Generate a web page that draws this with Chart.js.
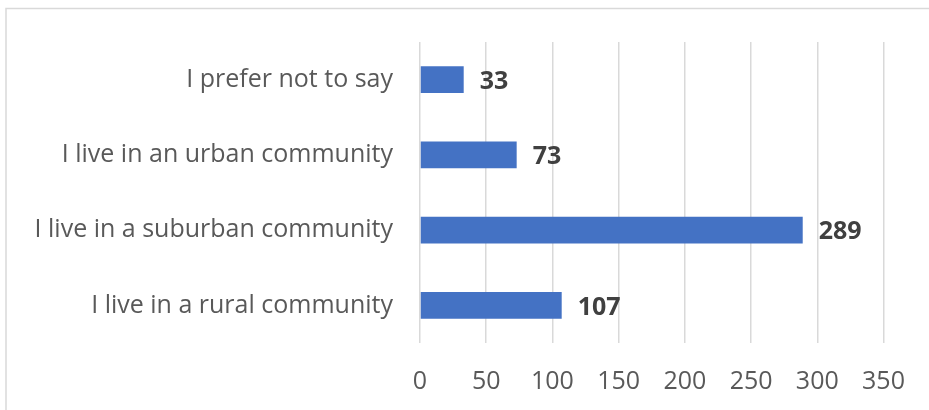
<!DOCTYPE html>
<html>
<head>
<meta charset="utf-8">
<script src="https://cdn.jsdelivr.net/npm/chart.js@4"></script>
<style>
  html, body { margin: 0; padding: 0; background: #fff; }
  #wrap { position: relative; width: 929px; height: 410px; }
</style>
</head>
<body>
<div id="wrap"><canvas id="chart" width="929" height="410"></canvas></div>
<script>
const categories = [
  'I prefer not to say',
  'I live in an urban community',
  'I live in a suburban community',
  'I live in a rural community'
];
const counts = [33, 73, 289, 107];
const xTicks = [0, 50, 100, 150, 200, 250, 300, 350];

const fontFamily = '"Open Sans", "Liberation Sans", sans-serif';

// light frame around the whole chart (cut off at the right and bottom)
const frame = {
  id: 'frame',
  beforeDraw(chart) {
    const ctx = chart.ctx;
    ctx.save();
    ctx.strokeStyle = '#d9d9d9';
    ctx.lineWidth = 1.5;
    ctx.beginPath();
    ctx.moveTo(6, 420);
    ctx.lineTo(6, 8.5);
    ctx.lineTo(940, 8.5);
    ctx.stroke();
    ctx.restore();
  }
};

// bold count written just past the end of each bar
const valueLabels = {
  id: 'valueLabels',
  afterDatasetsDraw(chart) {
    const ctx = chart.ctx;
    const meta = chart.getDatasetMeta(0);
    ctx.save();
    ctx.font = 'bold 25px ' + fontFamily;
    ctx.fillStyle = '#404040';
    ctx.textAlign = 'left';
    ctx.textBaseline = 'middle';
    meta.data.forEach((bar, i) => {
      ctx.fillText(String(counts[i]), bar.x + 16, bar.y + 2);
    });
    ctx.restore();
  }
};

new Chart(document.getElementById('chart'), {
  type: 'bar',
  data: {
    labels: categories,
    datasets: [{
      data: counts,
      backgroundColor: '#4472c4',
      borderWidth: 0,
      categoryPercentage: 1,
      barPercentage: 0.355
    }]
  },
  plugins: [frame, valueLabels],
  options: {
    indexAxis: 'y',
    responsive: false,
    animation: false,
    layout: { padding: { top: 38, right: 45.5, left: 0, bottom: 0 } },
    plugins: {
      legend: { display: false },
      tooltip: { enabled: false }
    },
    scales: {
      x: {
        min: 0,
        max: 350,
        afterBuildTicks(scale) {
          scale.ticks = xTicks.map(v => ({ value: v }));
        },
        afterFit(scale) { scale.height = 67; },
        grid: { color: '#d9d9d9', lineWidth: 1.5, drawTicks: false },
        border: { display: false },
        ticks: {
          color: '#595959',
          padding: 24,
          font: { family: fontFamily, size: 25 }
        }
      },
      y: {
        afterFit(scale) { scale.width = 420; },
        grid: { display: false, drawTicks: false },
        border: { display: false },
        ticks: {
          color: '#595959',
          padding: 27,
          font: { family: fontFamily, size: 25 }
        }
      }
    }
  }
});
</script>
</body>
</html>
